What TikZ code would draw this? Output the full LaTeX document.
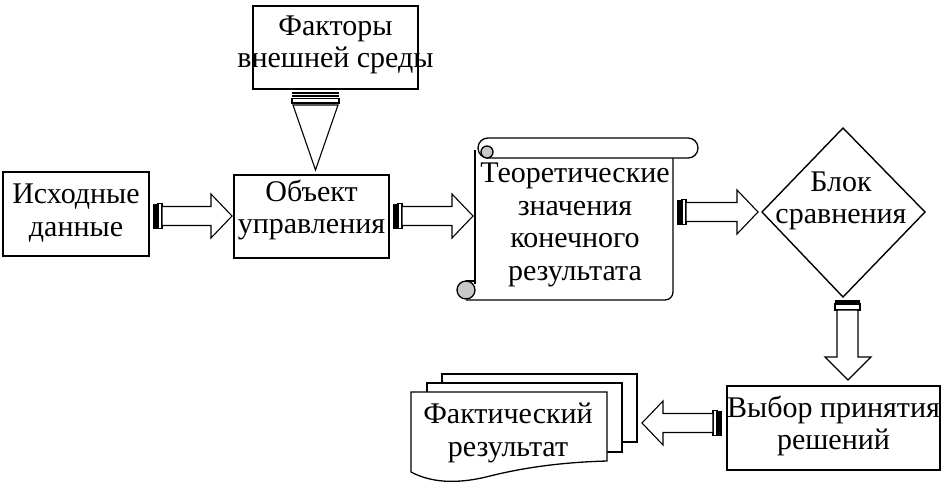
\documentclass[tikz,border=0pt]{standalone}
\usepackage{fontspec}
\setmainfont{Liberation Serif}
\usetikzlibrary{calc}
\definecolor{curl}{RGB}{200,200,200}
\tikzset{
  box/.style={draw, line width=1.4pt, minimum width=#1, inner sep=0pt},
  txt/.style={align=center, font=\fontsize{30}{32.5}\selectfont, inner sep=0pt},
  arr/.style={line width=1.1pt, fill=white, line join=miter},
}
\newcommand\hstripe[3]{%
 \begin{scope}[shift={(#1,#3)}]
  \pgfmathsetmacro\L{#2-#1}
  \pgfmathsetmacro\dir{sign(\L)}
  \pgfmathsetmacro\La{abs(\L)}
  \begin{scope}[xscale=\dir]
   \fill (0,-12.5) rectangle (4,12.5);
   \draw[arr] (5,-12.5) rectangle (9,12.5);
   \draw[arr] (9,-9.5) -- (\La-21,-9.5) -- (\La-21,-22) -- (\La,0) -- (\La-21,22) -- (\La-21,9.5) -- (9,9.5) -- cycle;
  \end{scope}
 \end{scope}}
\begin{document}
\begin{tikzpicture}[x=1pt,y=-1pt]
\useasboundingbox (0,0) rectangle (944,491);
\fill[white] (0,0) rectangle (944,491);

% boxes
\node[box=146pt, minimum height=84pt] (ish) at (76,214) {};
\node[txt] (ishT) at (76,213) {Исходные\\данные};
\node[box=155pt, minimum height=83pt] (obj) at (311.5,216.5) {};
\node[txt] (objT) at (311.5,210) {Объект\\управления};
\node[box=165pt, minimum height=83pt] (fak) at (335.5,47.5) {};
\node[txt] (fakT) at (335.5,45) {Факторы\\внешней среды};
\node[box=213pt, minimum height=84pt] (vyb) at (833.5,428) {};
\node[txt] (vybT) at (833.5,426) {Выбор принятия\\решений};

% scroll
\begin{scope}[line width=1.3pt]
 \fill[white] (475,150) rectangle (673,300);
 \draw (475,150) -- (475,284);
 \draw[rounded corners=8pt] (466,300) -- (673,300) -- (673,150);
 \draw[fill=white, rounded corners=9.9pt] (478,138) rectangle (698,158);
 \draw[fill=curl] (487,152) circle[radius=6];
 \draw[fill=curl] (466,290) circle[radius=9];
 \draw (466,281) -- (475,281);
\end{scope}
\node[txt] (teo) at (575,225) {Теоретические\\значения\\конечного\\результата};

% diamond
\draw[line width=1.4pt, fill=white] (843,128) coordinate (dT) -- (925,212) -- (843,297) coordinate (dB) -- (762,212) coordinate (dL) -- cycle;
\node[txt] (blk) at (841,201) {Блок\\сравнения};

% multi-document
\begin{scope}[line width=1.3pt]
 \draw[fill=white] (442,374) rectangle (637,442);
 \draw[fill=white] (427,383) rectangle (622,452);
 \draw[fill=white] (411,392) -- (607,392) -- (607,461) .. controls (570,462) and (530,466) .. (490,476) .. controls (455,485) and (430,482) .. (411,472) -- cycle;
\end{scope}
\node[txt] (fact) at (508,433) {Фактический\\результат};

% arrows
\hstripe{153}{232}{216}
\hstripe{393}{473}{216}
\hstripe{677}{758}{212}
\hstripe{722}{642}{423}

% down arrow from diamond
\fill (835,299.5) rectangle (860,302.5);
\draw[arr] (835,304) rectangle (860,310);
\draw[arr] (837,310) -- (837,357) -- (825,357) -- (848,380) -- (871,357) -- (858,357) -- (858,310) -- cycle;

% top triangle arrow
\fill (292,92) rectangle (339,93.5);
\fill (292,95) rectangle (339,96.5);
\draw[arr] (292,98.5) rectangle (339,103);
\draw[arr] (293,105) -- (338,105) -- (315.5,170) -- cycle;
\end{tikzpicture}
\end{document}
